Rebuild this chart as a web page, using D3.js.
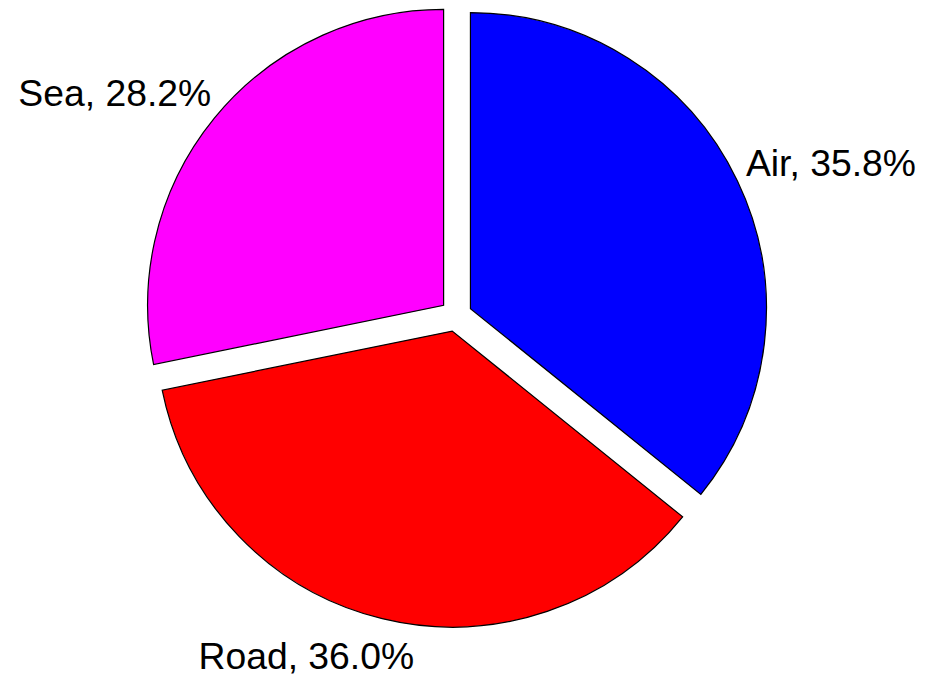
<!DOCTYPE html>
<html>
<head>
<meta charset="utf-8">
<script src="https://cdn.jsdelivr.net/npm/d3@7"></script>
<style>
  html, body { margin: 0; padding: 0; background: #fff; }
  svg { display: block; }
</style>
</head>
<body>
<svg id="chart" width="926" height="679"></svg>
<script>
// chart data
var categories = ["Air", "Road", "Sea"];
var shares = [35.8, 36.0, 28.2];
var sliceColors = ["#0000ff", "#ff0000", "#ff00ff"];

var svg = d3.select("#chart"),
    cx = 456, cy = 315.5,
    radius = 296,
    explode = 16,
    fontSize = 37.3;

// label angle tweaks (degrees) so labels sit where the original put them
var labelShift = [3.5, 10.5, -6.4];

var pie = d3.pie().sort(null).value(function (d) { return d.value; });
var arc = d3.arc().innerRadius(0).outerRadius(radius);

var data = categories.map(function (c, i) {
    return { name: c, value: shares[i], color: sliceColors[i], i: i };
});

var arcs = pie(data);

var slices = svg.append("g")
    .attr("transform", "translate(" + cx + "," + cy + ")")
    .selectAll("g.slice")
    .data(arcs)
    .enter().append("g")
    .attr("class", "slice")
    .attr("transform", function (d) {
        var mid = (d.startAngle + d.endAngle) / 2;
        return "translate(" + (Math.sin(mid) * explode) + "," + (-Math.cos(mid) * explode) + ")";
    });

slices.append("path")
    .attr("d", arc)
    .attr("fill", function (d) { return d.data.color; })
    .attr("stroke", "#000")
    .attr("stroke-width", 1.2)
    .attr("stroke-linejoin", "miter");

// labels outside the pie
slices.each(function (d) {
    var g = d3.select(this);
    var txt = g.append("text")
        .attr("font-family", "'Liberation Sans', Arial, sans-serif")
        .attr("font-size", fontSize)
        .attr("fill", "#000")
        .attr("text-anchor", "middle")
        .text(d.data.name + ", " + d3.format(".1f")(d.data.value) + "%");

    var w = txt.node().getComputedTextLength(),
        h = fontSize * 0.8;
    var mid = (d.startAngle + d.endAngle) / 2 + labelShift[d.data.i] * Math.PI / 180;
    var s = Math.sin(mid), c = Math.cos(mid);
    var half = Math.sqrt(Math.pow(w / 2 * s, 2) + Math.pow(h / 2 * c, 2));
    var dist = radius + 14 + half;
    var lx = s * dist, ly = -c * dist;

    txt.attr("x", lx).attr("y", ly + fontSize * 0.358);
});
</script>
</body>
</html>
